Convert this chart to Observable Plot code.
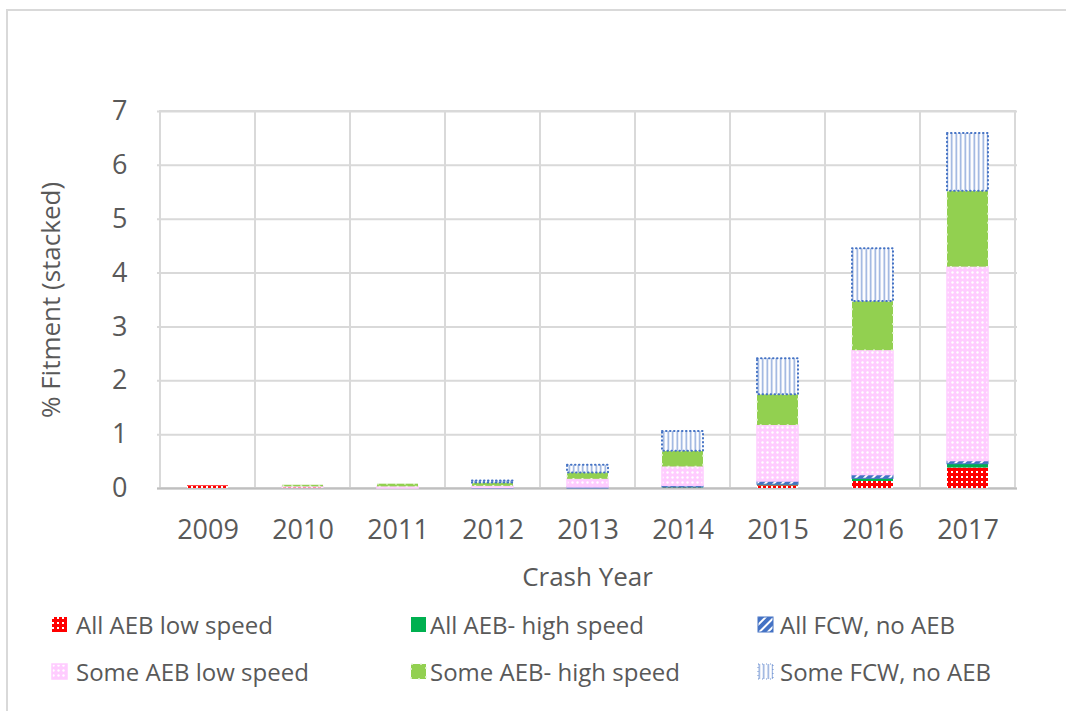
<!DOCTYPE html>
<html><head><meta charset="utf-8">
<script src="https://cdn.jsdelivr.net/npm/d3@7"></script>
<script src="https://cdn.jsdelivr.net/npm/@observablehq/plot@0.6"></script>
<style>
body{margin:0;background:#fff;font-family:"Open Sans",sans-serif;}
#wrap{position:relative;width:1066px;height:711px;overflow:hidden;background:#fff;}
#frame{position:absolute;left:6px;top:9px;width:1100px;height:800px;border-left:2px solid #d9d9d9;border-top:2px solid #d9d9d9;}
#chart{position:absolute;left:0;top:0;}
.sw{position:absolute;width:17px;height:17px;}
.lt{position:absolute;font-size:24px;line-height:34px;color:#595959;white-space:nowrap;}
</style></head>
<body>
<div id="wrap">
<div id="frame"></div>
<svg width="0" height="0" style="position:absolute;left:0;top:0">
<defs>
<pattern id="pRed" width="5" height="5" patternUnits="userSpaceOnUse">
<rect width="5" height="5" fill="#ff0000"/>
<rect x="1" y="1" width="2" height="2" fill="#ffffff"/>
</pattern>
<pattern id="pGreen" width="6" height="6" patternUnits="userSpaceOnUse">
<rect width="6" height="6" fill="#00b050"/>
</pattern>
<pattern id="pBlue" width="6" height="6" patternUnits="userSpaceOnUse" patternTransform="rotate(45)">
<rect width="6" height="6" fill="#4472c4"/>
<rect x="0" y="0" width="2" height="6" fill="#ffffff"/>
</pattern>
<pattern id="pPink" width="5" height="5" patternUnits="userSpaceOnUse">
<rect width="5" height="5" fill="#ffccff"/>
<circle cx="2.5" cy="2.5" r="1.2" fill="#ffffff"/>
</pattern>
<pattern id="pLime" width="6" height="6" patternUnits="userSpaceOnUse">
<rect width="6" height="6" fill="#92d050"/>
</pattern>
<pattern id="pStripe" width="4.5" height="6" patternUnits="userSpaceOnUse">
<rect width="4.5" height="6" fill="#ffffff"/>
<rect x="1.5" y="0" width="1.5" height="6" fill="#8faadc"/>
</pattern>
</defs>
</svg>
<div id="chart"></div>
<div id="legend"></div>
</div>
<script>
const years = ["2009","2010","2011","2012","2013","2014","2015","2016","2017"];
const seriesNames = ["All AEB low speed","All AEB- high speed","All FCW, no AEB","Some AEB low speed","Some AEB- high speed","Some FCW, no AEB"];
const allAebLow   = [0.05, 0.02, 0.00, 0.00, 0.00, 0.01, 0.05, 0.13, 0.38];
const allAebHigh  = [0.00, 0.00, 0.00, 0.00, 0.00, 0.01, 0.02, 0.05, 0.07];
const allFcw      = [0.00, 0.00, 0.00, 0.01, 0.02, 0.03, 0.06, 0.07, 0.06];
const someAebLow  = [0.00, 0.01, 0.03, 0.03, 0.15, 0.35, 1.04, 2.31, 3.60];
const someAebHigh = [0.00, 0.03, 0.05, 0.06, 0.12, 0.29, 0.57, 0.91, 1.41];
const someFcw     = [0.00, 0.00, 0.00, 0.04, 0.14, 0.37, 0.67, 0.98, 1.07];
const yTicks = [0,1,2,3,4,5,6,7];
const xTitle = "Crash Year";
const yTitle = "% Fitment (stacked)";

const seriesValues = [allAebLow, allAebHigh, allFcw, someAebLow, someAebHigh, someFcw];
const styles = [
  {fill:"url(#pRed)", stroke:"none"},
  {fill:"url(#pGreen)", stroke:"none"},
  {fill:"url(#pBlue)", stroke:"#4472c4", strokeWidth:1},
  {fill:"url(#pPink)", stroke:"#ffccff", strokeWidth:1.5},
  {fill:"url(#pLime)", stroke:"#eaf6dc", strokeWidth:1.5, strokeDasharray:"2 7"},
  {fill:"url(#pStripe)", stroke:"#4472c4", strokeWidth:2, strokeDasharray:"0.5 3.5", strokeLinecap:"round"}
];

// stack
const cum = years.map(() => 0);
const stacked = seriesValues.map((vals, i) => years.map((yr, j) => {
  const y1 = cum[j]; cum[j] += vals[j];
  return {year: yr, series: seriesNames[i], y1, y2: cum[j], v: vals[j]};
}).filter(d => d.v > 0));

const font = "'Open Sans', sans-serif";
const barInset = 27;

const chart = Plot.plot({
  width: 1066, height: 600,
  marginLeft: 157, marginRight: 49, marginTop: 111, marginBottom: 112,
  x: {domain: years, padding: 0, label: null},
  y: {domain: [0, 7], label: null},
  style: {fontFamily: font, fontSize: "27px", color: "#595959", background: "transparent", overflow: "visible"},
  marks: [
    Plot.gridY(yTicks, {stroke: "#d9d9d9", strokeOpacity: 1, strokeWidth: 2}),
    Plot.barY(years, {x: d => d, y1: () => 0, y2: () => 7, fill: "none", stroke: "#d9d9d9", strokeWidth: 2}),
    Plot.ruleY([0], {stroke: "#bfbfbf", strokeWidth: 2}),
    ...stacked.map((rows, i) => Plot.barY(rows, {x: "year", y1: "y1", y2: "y2", insetLeft: barInset, insetRight: barInset, ...styles[i]})),
    Plot.axisY(yTicks, {tickSize: 0, tickPadding: 30, label: null, fontSize: 27, tickFormat: d => String(d)}),
    Plot.axisX({tickSize: 0, tickPadding: 31, label: null, fontSize: 27}),
    Plot.text([yTitle], {text: d => d, frameAnchor: "left", dx: -106, rotate: -90, textAnchor: "middle", lineAnchor: "middle", fontSize: 26, fill: "#595959"}),
    Plot.text([xTitle], {text: d => d, frameAnchor: "bottom", dy: 89, textAnchor: "middle", lineAnchor: "middle", fontSize: 26, fill: "#595959"})
  ]
});
document.getElementById("chart").appendChild(chart);

// legend
const legend = document.getElementById("legend");
const colSw = [51, 410, 757];
const colTx = [76, 430, 780];
const rowC = [625, 672];
seriesNames.forEach((name, i) => {
  const r = Math.floor(i / 3), c = i % 3;
  const s = styles[i];
  const sw = document.createElementNS("http://www.w3.org/2000/svg", "svg");
  sw.setAttribute("class", "sw");
  sw.setAttribute("width", 17); sw.setAttribute("height", 17);
  sw.style.left = colSw[c] + "px"; sw.style.top = (rowC[r] - 9) + "px";
  const rect = document.createElementNS("http://www.w3.org/2000/svg", "rect");
  rect.setAttribute("x", 1); rect.setAttribute("y", 1); rect.setAttribute("width", 15); rect.setAttribute("height", 15);
  rect.setAttribute("fill", s.fill);
  rect.setAttribute("stroke", s.stroke === "none" ? "none" : s.stroke);
  if (s.strokeWidth) rect.setAttribute("stroke-width", Math.min(s.strokeWidth, 1.5));
  if (s.strokeDasharray) rect.setAttribute("stroke-dasharray", s.strokeDasharray);
  sw.appendChild(rect);
  legend.appendChild(sw);
  const t = document.createElement("div");
  t.className = "lt";
  t.textContent = name;
  t.style.left = colTx[c] + "px"; t.style.top = (rowC[r] - 17) + "px";
  legend.appendChild(t);
});
</script>
</body></html>
